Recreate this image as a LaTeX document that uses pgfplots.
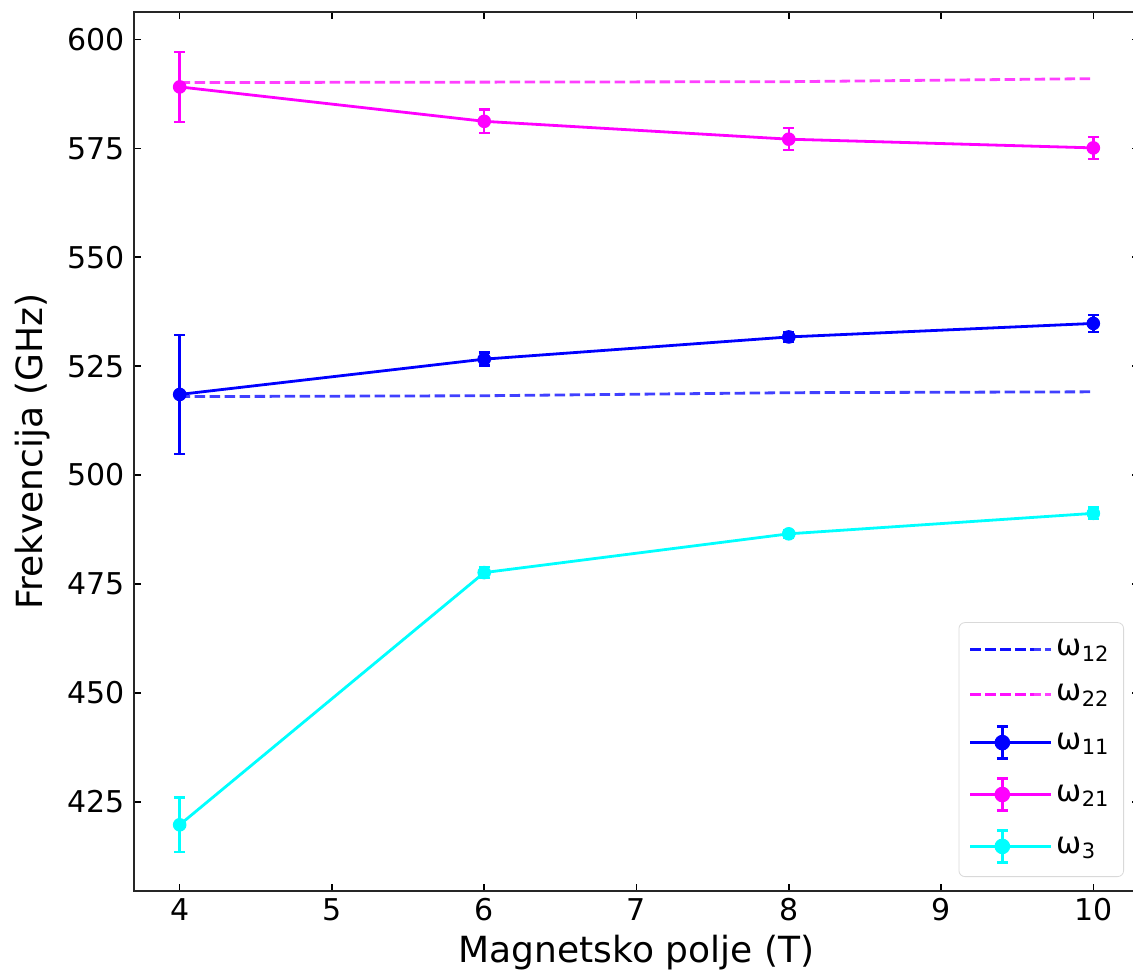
\documentclass[border=0pt]{standalone}
\usepackage{pgfplots}
\pgfplotsset{compat=1.18}
\usepackage{fontspec}
\setmainfont{DejaVu Sans}
\definecolor{mblue}{RGB}{0,0,255}
\definecolor{mmag}{RGB}{255,0,255}
\definecolor{mcyan}{RGB}{0,255,255}
\pgfplotsset{
  dashleg/.style={legend image code/.code={
    \draw[#1,opacity=0.75,line width=1.4pt,dash pattern=on 5.2pt off 2.3pt] (0pt,0pt) -- (32pt,0pt);
    \path (0pt,0pt) -- (40.5pt,0pt);}},
  errleg/.style={legend image code/.code={
    \draw[#1,line width=1.4pt,solid] (0pt,0pt) -- (32pt,0pt);
    \draw[#1,line width=1.2pt,solid] (16pt,-8pt) -- (16pt,8pt);
    \draw[#1,line width=1.2pt,solid] (13.25pt,-8pt) -- (18.75pt,-8pt);
    \draw[#1,line width=1.2pt,solid] (13.25pt,8pt) -- (18.75pt,8pt);
    \fill[#1] (16pt,0pt) circle (3.2pt);
    \path (0pt,0pt) -- (40.5pt,0pt);}},
  errplot/.style={color=#1, line width=1.4pt, mark=*, mark size=3.1pt,
    mark options={solid, fill=#1, draw=#1, line width=0.6pt},
    error bars/.cd, y dir=both, y explicit,
    error bar style={line width=1.2pt, solid},
    error mark options={rotate=90, mark size=2.75pt, line width=1.2pt},
    /pgfplots/.cd},
}
\begin{document}
\begin{tikzpicture}
\begin{axis}[
  name=ax,
  scale only axis, width=502.5pt, height=439.5pt,
  xmin=3.7, xmax=10.3, ymin=404.5, ymax=606.3,
  xtick={4,5,...,10}, ytick={425,450,...,600},
  tick align=inside, major tick length=3.5pt,
  every tick/.style={black, line width=0.8pt},
  axis line style={black!85, line width=0.8pt},
  /pgf/number format/assume math mode=true,
  tick label style={font=\fontsize{15}{18}\selectfont},
  xticklabel style={anchor=north, inner sep=0pt, yshift=-3.5pt},
  yticklabel style={anchor=east, inner sep=0pt, xshift=-4.5pt},
  xlabel={Magnetsko polje (T)}, ylabel={Frekvencija (GHz)},
  label style={font=\fontsize{18}{21}\selectfont},
  xlabel style={at={(axis description cs:0.5,-0.0808)}, anchor=base},
  ylabel style={at={(axis description cs:-0.0915,0.5)}, anchor=base},
  legend style={at={(axis description cs:1,0)}, anchor=south east,
    xshift=-7.5pt, yshift=7pt, draw=black!15, rounded corners=3pt,
    font=\fontsize{15}{18}\selectfont, row sep=8.75pt,
    inner xsep=5pt, inner ysep=6.5pt},
  legend cell align=left,
]
\addplot[mblue, opacity=0.75, line width=1.4pt, dash pattern=on 5.2pt off 2.3pt, no marks, dashleg=mblue]
  coordinates {(4,518.0) (6,518.2) (8,518.9) (10,519.1)};
\addlegendentry{ω\textsubscript{12}}
\addplot[mmag, opacity=0.75, line width=1.4pt, dash pattern=on 5.2pt off 2.3pt, no marks, dashleg=mmag]
  coordinates {(4,590.1) (6,590.2) (8,590.3) (10,591.0)};
\addlegendentry{ω\textsubscript{22}}
\addplot[errleg=mblue, errplot=mblue]
  coordinates {(4,518.5) +- (0,13.7) (6,526.6) +- (0,1.5) (8,531.7) +- (0,1.2) (10,534.8) +- (0,1.95)};
\addlegendentry{ω\textsubscript{11}}
\addplot[errleg=mmag, errplot=mmag]
  coordinates {(4,589.1) +- (0,8.0) (6,581.2) +- (0,2.75) (8,577.1) +- (0,2.5) (10,575.1) +- (0,2.5)};
\addlegendentry{ω\textsubscript{21}}
\addplot[errleg=mcyan, errplot=mcyan]
  coordinates {(4,419.7) +- (0,6.3) (6,477.6) +- (0,1.3) (8,486.5) +- (0,0.8) (10,491.2) +- (0,1.3)};
\addlegendentry{ω\textsubscript{3}}
\end{axis}
\pgfresetboundingbox
\path ([xshift=-67pt,yshift=-41.5pt]ax.south west) rectangle ([xshift=-3pt,yshift=6pt]ax.north east);
\end{tikzpicture}
\end{document}
